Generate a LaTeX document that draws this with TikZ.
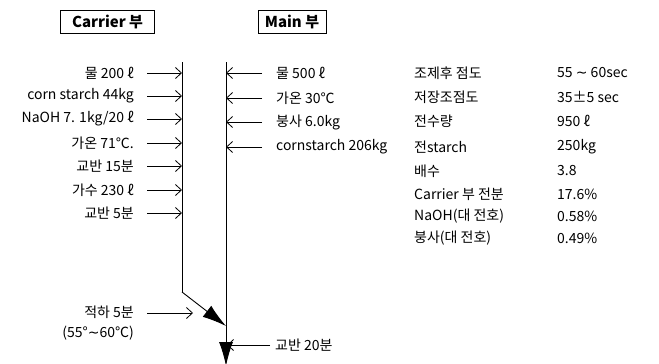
\documentclass[tikz,border=0pt]{standalone}
\usepackage{fontspec}
\setmainfont{Noto Sans CJK KR}
\newfontfamily\dvfont{DejaVu Sans}
\newcommand{\tl}{{\dvfont ∼}}
\usetikzlibrary{arrows.meta}
\begin{document}
\begin{tikzpicture}[x=1pt,y=-1pt,
  lbl/.style={font=\fontsize{14}{15}\selectfont, inner sep=0pt},
  lblR/.style={lbl, anchor=east},
  lblL/.style={lbl, anchor=west},
  hdr/.style={draw, line width=0.8pt, font=\fontsize{15}{16}\selectfont\bfseries, minimum height=23pt, inner xsep=5pt, inner ysep=0pt},
  flow/.style={line width=0.9pt},
  feed/.style={line width=0.8pt, -{Straight Barb[length=6pt,width=11pt]}},
  big/.style={line width=0.9pt, -{Latex[length=24pt,width=14pt]}}
]
\useasboundingbox (0,0) rectangle (659,364);
% headers
\node[hdr, minimum width=94pt] (hc) at (107.5,21.5) {Carrier 부};
\node[hdr, minimum width=68pt] (hm) at (292,21.5) {Main 부};
% main lines
\coordinate (ct) at (182,62);
\coordinate (cb) at (182,292);
\coordinate (mt) at (226,62);
\coordinate (mj) at (226,326);
\coordinate (mb) at (226,366);
\draw[flow] (ct) -- (cb);
\draw[big] (cb) -- (mj);
\draw[big] (mt) -- (mb);
% carrier feeds
\foreach \i/\y/\t in {1/73/{물 200 ℓ},2/96/{corn starch 44kg},3/119/{NaOH 7. 1kg/20 ℓ},4/143/{가온 71℃.},5/166/{교반 15분},6/190/{가수 230 ℓ},7/213/{교반 5분}}{
  \node[lblR] (c\i) at (134,\y) {\t};
  \coordinate (cs\i) at (147,\y);
  \coordinate (ce\i) at (182,\y);
  \draw[feed] (cs\i) -- (ce\i);
}
% main feeds
\foreach \i/\y/\t in {1/73/{물 500 ℓ},2/98/{가온 30℃},3/122/{붕사 6.0kg},4/147/{cornstarch 206kg}}{
  \node[lblL] (m\i) at (276,\y) {\t};
  \coordinate (ms\i) at (262,\y);
  \coordinate (me\i) at (226,\y);
  \draw[feed] (ms\i) -- (me\i);
}
% drip
\node[lblR] (d1) at (134,312) {적하 5분};
\node[lblR] (d2) at (134,333) {(55°\tl60℃)};
\coordinate (ds) at (147,313);
\coordinate (de) at (193,313);
\draw[feed] (ds) -- (de);
% final stir
\node[lblL] (f1) at (275,345) {교반 20분};
\coordinate (fs) at (270,345);
\coordinate (fe) at (227,345);
\draw[feed] (fs) -- (fe);
% table
\foreach \i/\y/\a/\b in {1/73/{조제후 점도}/{55 \tl\ 60sec},2/97/{저장조점도}/{35±5 sec},3/121/{전수량}/{950 ℓ},4/147/{전starch}/{250kg},5/171/{배수}/{3.8},6/194/{Carrier 부 전분}/{17.6\%},7/216/{NaOH(대 전호)}/{0.58\%},8/238/{붕사(대 전호)}/{0.49\%}}{
  \node[lblL] (ta\i) at (414,\y) {\a};
  \node[lblL] (tb\i) at (557,\y) {\b};
}
\end{tikzpicture}
\end{document}
